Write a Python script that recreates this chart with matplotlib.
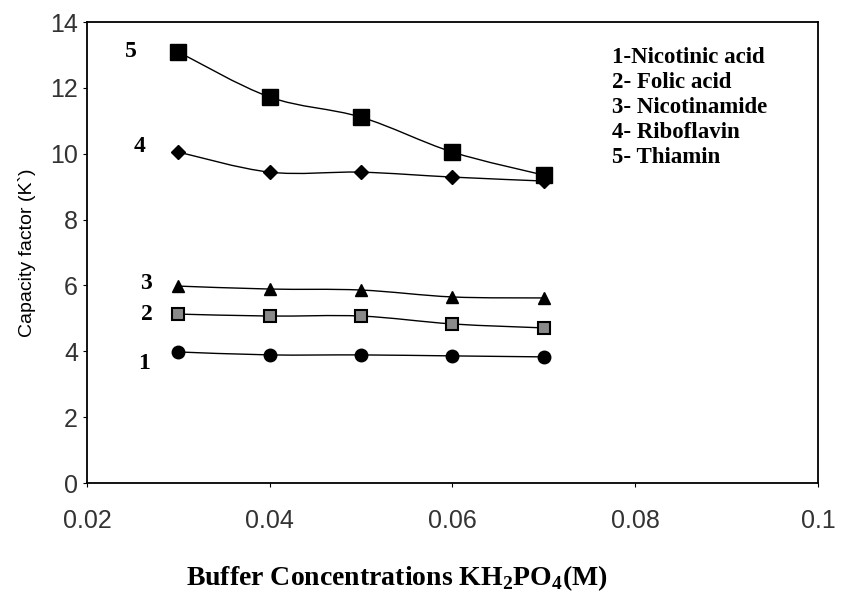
import matplotlib

matplotlib.use("Agg")
import matplotlib.pyplot as plt
from matplotlib.patches import PathPatch
from matplotlib.path import Path

# Buffer concentration (M) and capacity factors per vitamin
conc = [0.03, 0.04, 0.05, 0.06, 0.07]
nicotinic_acid = [3.98, 3.89, 3.89, 3.86, 3.83]
folic_acid = [5.13, 5.07, 5.07, 4.83, 4.71]
nicotinamide = [5.98, 5.89, 5.86, 5.65, 5.62]
riboflavin = [10.05, 9.44, 9.44, 9.29, 9.17]
thiamin = [13.09, 11.72, 11.11, 10.05, 9.35]

series_ids = ["1", "2", "3", "4", "5"]
legend_lines = ["1-Nicotinic acid", "2- Folic acid", "3- Nicotinamide",
                "4- Riboflavin", "5- Thiamin"]

SANS = "Liberation Sans"
SERIF = "Liberation Serif"

plt.rcParams["mathtext.fontset"] = "custom"
plt.rcParams["mathtext.rm"] = "Liberation Serif:bold"
plt.rcParams["mathtext.bf"] = "Liberation Serif:bold"


def smooth_path(xs, ys):
    """Catmull-Rom style bezier through the points (spreadsheet 'smoothed line')."""
    pts = list(zip(xs, ys))
    verts = [pts[0]]
    codes = [Path.MOVETO]
    for i in range(len(pts) - 1):
        p0 = pts[i - 1] if i > 0 else pts[i]
        p1, p2 = pts[i], pts[i + 1]
        p3 = pts[i + 2] if i + 2 < len(pts) else pts[i + 1]
        c1 = (p1[0] + (p2[0] - p0[0]) / 6, p1[1] + (p2[1] - p0[1]) / 6)
        c2 = (p2[0] - (p3[0] - p1[0]) / 6, p2[1] - (p3[1] - p1[1]) / 6)
        verts += [c1, c2, p2]
        codes += [Path.CURVE4] * 3
    return Path(verts, codes)


fig = plt.figure(figsize=(8.48, 5.98), dpi=100)
ax = fig.add_axes([0.1026, 0.1923, 0.862, 0.7709])

styles = [
    (nicotinic_acid, dict(marker="o", ms=9, mfc="black", mec="black")),
    (folic_acid, dict(marker="s", ms=9, mfc="#8a8a8a", mec="black", mew=1.5)),
    (nicotinamide, dict(marker="^", ms=9, mfc="black", mec="black")),
    (riboflavin, dict(marker="D", ms=7, mfc="black", mec="black")),
    (thiamin, dict(marker="s", ms=11, mfc="black", mec="black")),
]
for vals, st in styles:
    ax.add_patch(PathPatch(smooth_path(conc, vals), fill=False, edgecolor="black", lw=1.0))
    ax.plot(conc, vals, ls="none", **st)

# series numbers at the left end of each curve
offsets = [(-25, -8), (-23, 0), (-23, 2), (-28, 4), (-34, 0)]
for (vals, _), sid, (dx, dy) in zip(styles, series_ids, offsets):
    ax.annotate(sid, (conc[0], vals[0]), xytext=(dx, dy), textcoords="offset points",
                ha="center", va="center", fontsize=17, fontweight="bold", family=SERIF)

for i, line in enumerate(legend_lines):
    ax.text(0.718, 0.922 - i * 0.054, line, transform=ax.transAxes, ha="left",
            va="center", fontsize=16.5, fontweight="bold", family=SERIF)

ax.set_xlim(0.02, 0.1)
ax.set_ylim(0, 14)
ax.set_xticks([0.02, 0.04, 0.06, 0.08, 0.1])
ax.set_xticklabels(["0.02", "0.04", "0.06", "0.08", "0.1"])
ax.set_yticks(range(0, 15, 2))
ax.tick_params(axis="both", direction="out", length=3, width=0.8, labelsize=18)
ax.tick_params(axis="x", pad=16)
for lbl in ax.get_xticklabels() + ax.get_yticklabels():
    lbl.set_family(SANS)
    lbl.set_color("#333333")
for sp in ax.spines.values():
    sp.set_linewidth(1.3)

ax.set_ylabel("Capacity factor (K`)", family=SANS, fontsize=14, labelpad=10)
ax.set_xlabel(r"Buffer Concentrations KH$_{2}$PO$_{4}$(M)", family=SERIF,
              fontsize=20, fontweight="bold", labelpad=22)
ax.xaxis.set_label_coords(0.424, -0.175)

fig.savefig("out.png", dpi=100)
